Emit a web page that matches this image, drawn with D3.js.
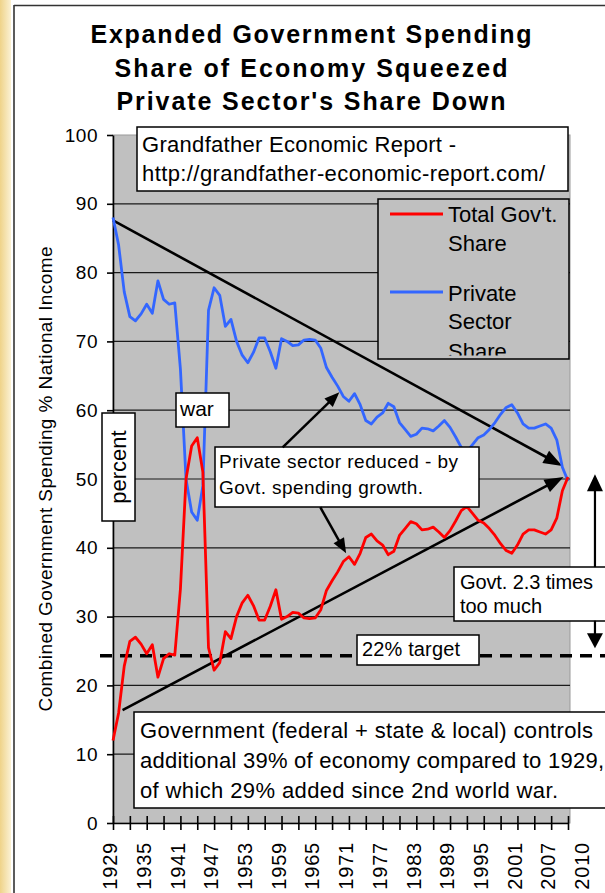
<!DOCTYPE html>
<html><head><meta charset="utf-8">
<script src="https://cdnjs.cloudflare.com/ajax/libs/d3/7.8.5/d3.min.js"></script>
<style>
body{margin:0;background:#fff;}
svg{display:block;}
text{font-family:"Liberation Sans",Arial,sans-serif;fill:#000;}
</style>
</head><body>
<svg id="c" width="605" height="893"></svg>
<script>
// ---------------- DATA ----------------
const years = [1929,1930,1931,1932,1933,1934,1935,1936,1937,1938,1939,1940,1941,1942,1943,1944,1945,1946,1947,1948,1949,
1950,1951,1952,1953,1954,1955,1956,1957,1958,1959,1960,1961,1962,1963,1964,1965,1966,1967,1968,1969,
1970,1971,1972,1973,1974,1975,1976,1977,1978,1979,1980,1981,1982,1983,1984,1985,1986,1987,1988,1989,
1990,1991,1992,1993,1994,1995,1996,1997,1998,1999,2000,2001,2002,2003,2004,2005,2006,2007,2008,2009,2010];

const govShare = [12.0,16.0,22.8,26.4,27.0,26.0,24.6,25.9,21.2,23.9,24.6,24.4,34.0,50.0,54.8,56.0,51.0,25.5,22.2,23.3,27.8,
26.8,30.0,32.0,33.1,31.6,29.5,29.5,31.5,33.9,29.6,30.0,30.6,30.5,29.8,29.7,29.8,31.0,33.8,35.2,36.5,
38.0,38.7,37.6,39.2,41.5,42.0,41.0,40.4,39.0,39.5,41.8,42.8,43.8,43.5,42.6,42.7,43.0,42.3,41.5,42.5,
43.9,45.4,46.0,45.0,44.0,43.6,42.8,41.8,40.6,39.6,39.2,40.4,42.0,42.6,42.6,42.3,42.0,42.6,44.3,48.3,50.3];

const privateShare = [88.0,84.0,77.2,73.6,73.0,74.0,75.4,74.1,78.8,76.1,75.4,75.6,66.0,50.0,45.2,44.0,49.0,74.5,77.8,76.7,72.2,
73.2,70.0,68.0,66.9,68.4,70.5,70.5,68.5,66.1,70.4,70.0,69.4,69.5,70.2,70.3,70.2,69.0,66.2,64.8,63.5,
62.0,61.3,62.4,60.8,58.5,58.0,59.0,59.6,61.0,60.5,58.2,57.2,56.2,56.5,57.4,57.3,57.0,57.7,58.5,57.5,
56.1,54.6,54.0,55.0,56.0,56.4,57.2,58.2,59.4,60.4,60.8,59.6,58.0,57.4,57.4,57.7,58.0,57.4,55.7,51.7,49.7];

const seriesNames = ["Total Gov't.\nShare", "Private\nSector\nShare"];
const yTicks = [0,10,20,30,40,50,60,70,80,90,100];
const gridValues = [10,20,30,40,50,60,70,80,90];
const xTickYears = [1929,1932,1935,1938,1941,1944,1947,1950,1953,1956,1959,1962,1965,1968,1971,1974,1977,1980,1983,1986,1989,1992,1995,1998,2001,2004,2007,2010];
const xLabels = ["1929","1935","1941","1947","1953","1959","1965","1971","1977","1983","1989","1995","2001","2007","2010"];
const xLabelSlots = [1929,1935,1941,1947,1953,1959,1965,1971,1977,1983,1989,1995,2001,2007,2013];
const targetValue = 24.3;           // "22% target" dashed line level
const trendPrivate = [[1929,87.6],[2009,51.9]];
const trendGov = [[1930.7,16.4],[2009.2,50.3]];

const titleLines = ["Expanded Government Spending","Share of Economy Squeezed","Private Sector's Share Down"];
const yTitle = "Combined Government Spending % National Income";

// ---------------- SETUP ----------------
const svg = d3.select("#c");
const x = d3.scaleLinear().domain([1929,2010]).range([113,568]);
const y = d3.scaleLinear().domain([0,100]).range([823,135]);

// left beige strip
const defs = svg.append("defs");
const lg = defs.append("linearGradient").attr("id","beige").attr("x1","0").attr("x2","1").attr("y1","0").attr("y2","0");
lg.append("stop").attr("offset","0").attr("stop-color","#efd389");
lg.append("stop").attr("offset","1").attr("stop-color","#fbf1d3");
svg.append("rect").attr("x",0).attr("y",0).attr("width",11).attr("height",893).attr("fill","url(#beige)");
// frame
svg.append("line").attr("x1",14).attr("x2",14).attr("y1",5).attr("y2",893).attr("stroke","#333").attr("stroke-width",1.6);
svg.append("line").attr("x1",14).attr("x2",605).attr("y1",5.5).attr("y2",5.5).attr("stroke","#333").attr("stroke-width",1.6);

// title
const titleLen = [441,393,389];
const titleBase = [43,77,110];
titleLines.forEach((t,i)=>{
  svg.append("text").attr("x",311).attr("y",titleBase[i]).attr("text-anchor","middle")
    .attr("font-size",25).attr("font-weight","bold")
    .attr("textLength",titleLen[i]).attr("lengthAdjust","spacing").text(t);
});

// y title
svg.append("text").attr("transform","translate(45,479) rotate(-90)").attr("text-anchor","middle")
  .attr("dy","0.35em").attr("font-size",19).attr("textLength",465).attr("lengthAdjust","spacing").text(yTitle);

// plot background
svg.append("rect").attr("x",113).attr("y",y(100)).attr("width",570-113).attr("height",y(0)-y(100))
  .attr("fill","#c0c0c0").attr("stroke","#9a9a9a").attr("stroke-width",1);

// gridlines
svg.append("g").selectAll("line").data(gridValues).join("line")
  .attr("x1",113).attr("x2",570).attr("y1",d=>y(d)).attr("y2",d=>y(d))
  .attr("stroke","#1a1a1a").attr("stroke-width",1.2);

// y axis
const yAxis = svg.append("g").attr("transform","translate(113,0)")
  .call(d3.axisLeft(y).tickValues(yTicks).tickSize(6).tickPadding(9).tickSizeOuter(0));
yAxis.select(".domain").attr("stroke","#000").attr("stroke-width",1.6);
yAxis.selectAll(".tick line").attr("stroke","#000").attr("stroke-width",1.6);
yAxis.selectAll(".tick text").attr("font-size",19).attr("font-family","Liberation Sans, Arial, sans-serif").attr("fill","#222").attr("letter-spacing","0.5px");

// x axis
const xAxis = svg.append("g").attr("transform",`translate(0,${y(0)})`)
  .call(d3.axisBottom(x).tickValues(xTickYears).tickSize(7).tickSizeOuter(0).tickFormat(""));
xAxis.select(".domain").attr("stroke","#000").attr("stroke-width",1.6);
xAxis.selectAll(".tick line").attr("y1",-7).attr("y2",7).attr("stroke","#000").attr("stroke-width",1.6);
svg.append("g").selectAll("text").data(xLabels).join("text")
  .attr("transform",(d,i)=>`translate(${x(xLabelSlots[i])-3},842) rotate(-90)`)
  .attr("text-anchor","end").attr("dy","0.36em").attr("font-size",20).attr("letter-spacing","0.8px").attr("fill","#222")
  .text(d=>d);

// dashed target line
svg.append("line").attr("x1",100).attr("x2",605).attr("y1",y(targetValue)).attr("y2",y(targetValue))
  .attr("stroke","#000").attr("stroke-width",3.5).attr("stroke-dasharray","12,8");

// arrows helper
function arrow(g,x1,y1,x2,y2,head,hw,w){
  const dx=x2-x1, dy=y2-y1, L=Math.hypot(dx,dy), ux=dx/L, uy=dy/L;
  const bx=x2-ux*head, by=y2-uy*head;
  g.append("line").attr("x1",x1).attr("y1",y1).attr("x2",bx+ux*3).attr("y2",by+uy*3)
    .attr("stroke","#000").attr("stroke-width",w);
  g.append("path").attr("d",`M${x2},${y2}L${bx-uy*hw},${by+ux*hw}L${bx+uy*hw},${by-ux*hw}Z`).attr("fill","#000");
}
const ag = svg.append("g");
arrow(ag,x(trendPrivate[0][0]),y(trendPrivate[0][1]),x(trendPrivate[1][0]),y(trendPrivate[1][1]),19,7,2.6);
arrow(ag,x(trendGov[0][0]),y(trendGov[0][1]),x(trendGov[1][0]),y(trendGov[1][1]),19,7,2.6);

// series lines
const line = d3.line().x((d,i)=>x(years[i])).y(d=>y(d));
svg.append("path").datum(privateShare).attr("d",line).attr("fill","none").attr("stroke","#3366ff").attr("stroke-width",2.8).attr("stroke-linejoin","round");
svg.append("path").datum(govShare).attr("d",line).attr("fill","none").attr("stroke","#ff0000").attr("stroke-width",2.8).attr("stroke-linejoin","round");

// boxes helper
function box(x0,y0,x1,y1,fill){
  return svg.append("rect").attr("x",x0).attr("y",y0).attr("width",x1-x0).attr("height",y1-y0)
    .attr("fill",fill||"#fff").attr("stroke","#000").attr("stroke-width",1.5);
}
function txt(xp,yp,t,size,len){
  const e = svg.append("text").attr("x",xp).attr("y",yp).attr("font-size",size).text(t);
  if(len) e.attr("textLength",len).attr("lengthAdjust","spacing");
  return e;
}

// Source box
box(137,127,568,191);
txt(142,152,"Grandfather Economic Report -",22,314);
txt(142,181,"http://grandfather-economic-report.com/",22,403);

// Legend
box(378,199,569,359,"#c0c0c0");
defs.append("clipPath").attr("id","legclip").append("rect").attr("x",379).attr("y",200).attr("width",189).attr("height",155.5);
const leg = svg.append("g").attr("clip-path","url(#legclip)");
leg.append("line").attr("x1",390).attr("x2",443).attr("y1",214).attr("y2",214).attr("stroke","#ff0000").attr("stroke-width",3);
leg.append("line").attr("x1",390).attr("x2",443).attr("y1",292).attr("y2",292).attr("stroke","#3366ff").attr("stroke-width",3);
const legLines = [seriesNames[0].split("\n"), seriesNames[1].split("\n")];
const legBase = [[222,251],[301,329,359]];
legLines.forEach((ls,si)=>ls.forEach((t,i)=>{
  leg.append("text").attr("x",448).attr("y",legBase[si][i]).attr("font-size",22).attr("fill","#111").text(t);
}));

// war box
box(176,393,229,427);
txt(180,416,"war",21);

// percent box
box(102,413,135,521);
svg.append("text").attr("transform","translate(118.5,467) rotate(-90)").attr("text-anchor","middle")
  .attr("dy","0.35em").attr("font-size",22).text("percent");

// Private sector box
box(215,447,479,507);
txt(219,468,"Private sector reduced - by",19,239);
txt(219,494,"Govt. spending growth.",19,204);
arrow(svg,x(1959.2),y(54.6),x(1969.3),y(62.6),15,6,2.5);
arrow(svg,x(1965.9),y(45.9),x(1970.5),y(39.2),15,6,2.5);

// 22% target
box(357,635,479,665);
txt(362,656,"22% target",20,98);

// Govt 2.3 times box
box(454,567,612,621);
txt(460,589,"Govt. 2.3 times",20,133);
txt(460,613,"too much",20,82);
arrow(svg,x(2014.8),y(37.2),x(2014.8),y(50.7),17,8,2.2);
arrow(svg,x(2014.8),y(29.4),x(2014.8),y(25.4),15,8,2.2);

// bottom box
box(134,712,612,808);
txt(140,738,"Government (federal + state & local) controls",22,453);
txt(140,768,"additional 39% of economy compared to 1929,",22,464);
txt(140,798,"of which 29% added since 2nd world war.",22,418);
</script>
</body></html>
